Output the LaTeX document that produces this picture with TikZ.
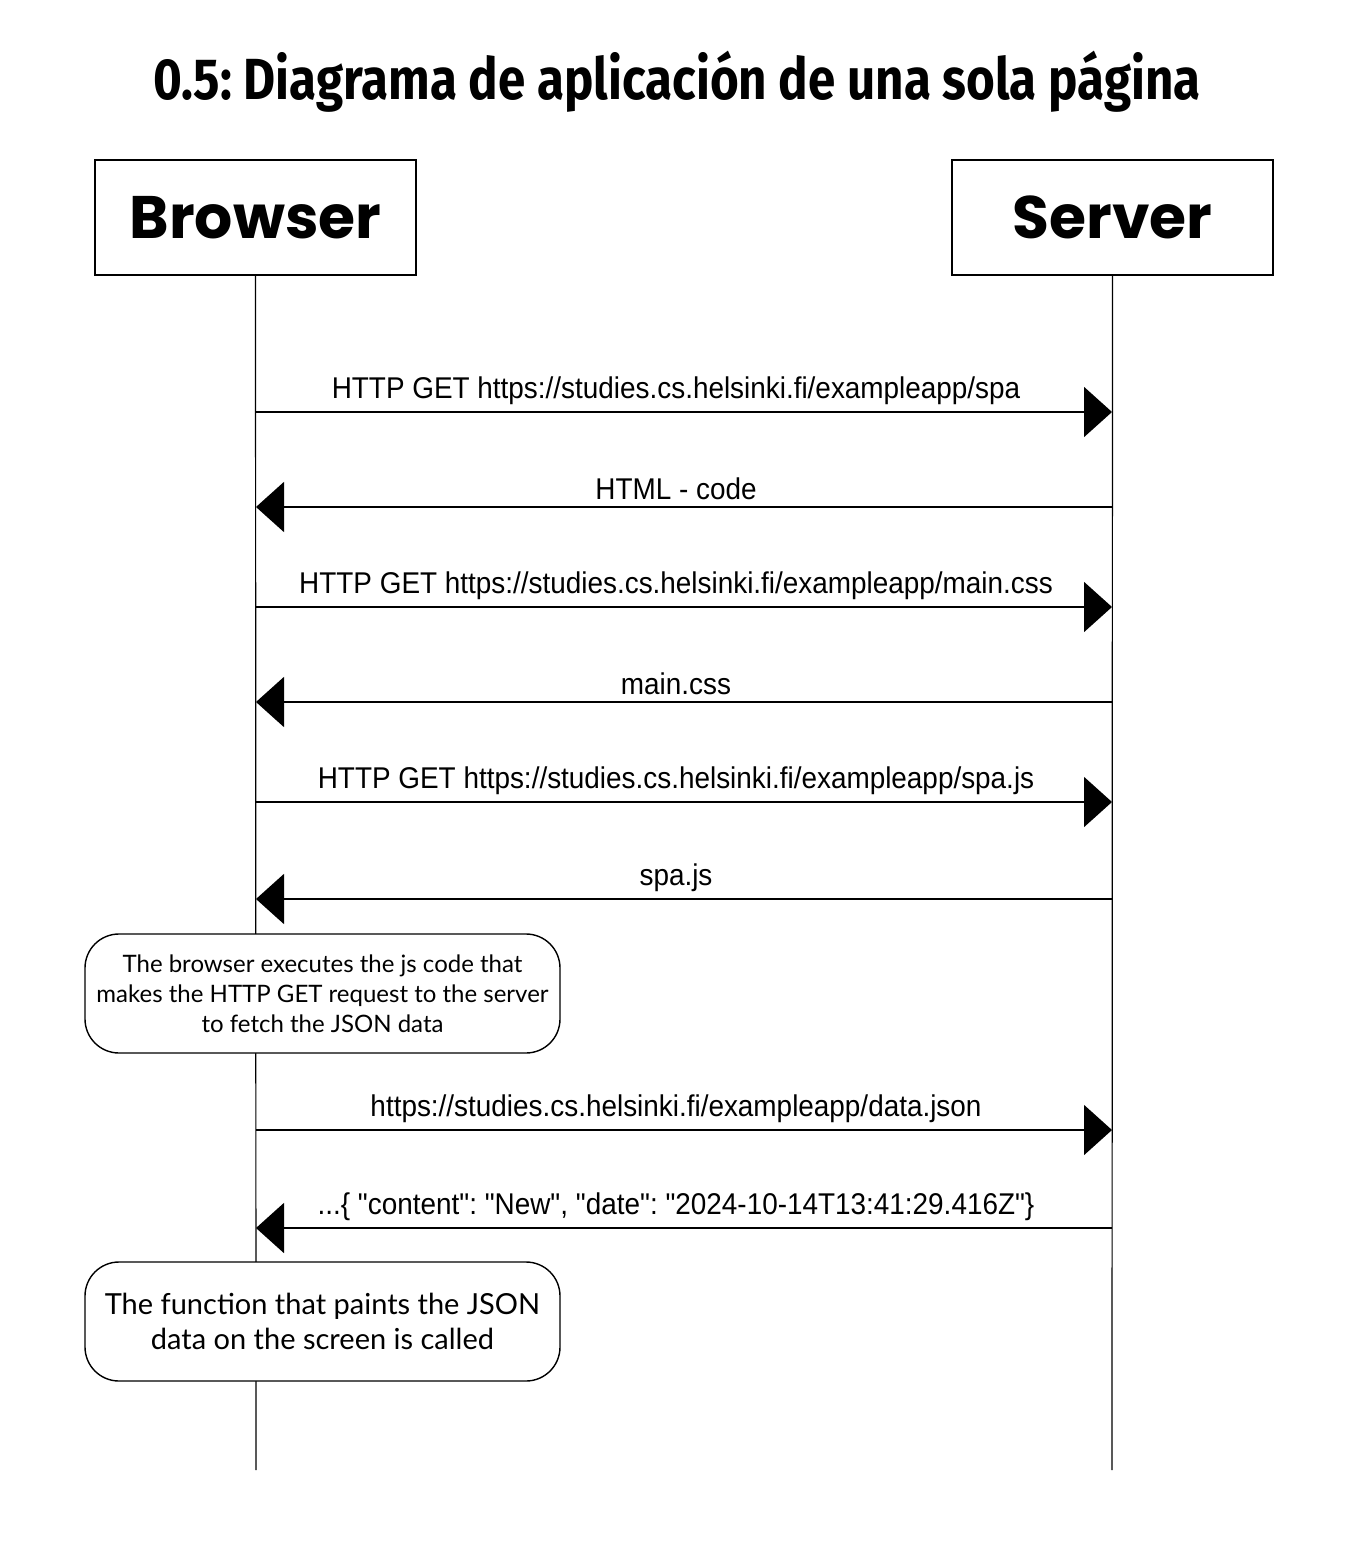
\documentclass[tikz,border=0pt]{standalone}
\usepackage{fontspec}
\usetikzlibrary{arrows.meta}
\newfontfamily\titlefont[FakeStretch=0.85]{Fira Sans}
\newfontfamily\actorfont{Poppins}
\newfontfamily\msgfont[FakeStretch=0.93]{Liberation Sans}
\newfontfamily\notefont{Lato}
\frenchspacing

\tikzset{
  actor/.style = {draw, line width=0.7pt, minimum width=160.5pt, minimum height=57.5pt,
                  font=\actorfont\fontsize{30}{34}\selectfont\bfseries},
  life/.style  = {line width=0.6pt},
  msg/.style   = {line width=0.8pt, -{Triangle[length=14pt, width=25pt]}},
  lbl/.style   = {above, inner sep=3pt, xshift=-4pt, font=\msgfont\fontsize{15}{18}\selectfont},
  note/.style  = {draw, fill=white, line width=0.7pt, rounded corners=17pt, align=center,
                  minimum width=237.5pt, minimum height=59.5pt}
}

\begin{document}
\begin{tikzpicture}[x=0.5pt, y=-0.5pt]
\useasboundingbox (0,0) rectangle (1354,1556);

\node[font=\titlefont\fontsize{29}{32}\selectfont\bfseries] (title) at (677,82)
  {0.5: Diagrama de aplicación de una sola página};

\node[actor] (browser) at (255.5,217.5) {Browser};
\node[actor] (server) at (1112.5,217.5) {Server};

\coordinate (bEnd) at (256,1470);
\coordinate (sEnd) at (1112,1470);
\draw[life] (browser) -- (bEnd);
\draw[life] (server) -- (sEnd);

% points on the lifelines
\foreach \n/\y in {1/412,2/507,3/607,4/702,5/802,6/899,7/1130,8/1228} {
  \coordinate (b\n) at (256,\y);
  \coordinate (s\n) at (1112,\y);
}

\draw[msg] (b1) -- node[lbl] {HTTP GET https://studies.cs.helsinki.fi/exampleapp/spa} (s1);
\draw[msg] (s2) -- node[lbl] {HTML - code} (b2);
\draw[msg] (b3) -- node[lbl] {HTTP GET https://studies.cs.helsinki.fi/exampleapp/main.css} (s3);
\draw[msg] (s4) -- node[lbl] {main.css} (b4);
\draw[msg] (b5) -- node[lbl] {HTTP GET https://studies.cs.helsinki.fi/exampleapp/spa.js} (s5);
\draw[msg] (s6) -- node[lbl] {spa.js} (b6);

\node[note, font=\notefont\fontsize{12}{15}\selectfont] (exec) at (322.5,993.5)
  {The browser executes the js code that\\makes the HTTP GET request to the server\\to fetch the JSON data};

\draw[msg] (b7) -- node[lbl] {https://studies.cs.helsinki.fi/exampleapp/data.json} (s7);
\draw[msg] (s8) -- node[lbl] {...\{ "content": "New", "date": "2024-10-14T13:41:29.416Z"\}} (b8);

\node[note, font=\notefont\fontsize{14.5}{17.5}\selectfont] (paint) at (322.5,1321.5)
  {The function that paints the JSON\\data on the screen is called};

\end{tikzpicture}
\end{document}
